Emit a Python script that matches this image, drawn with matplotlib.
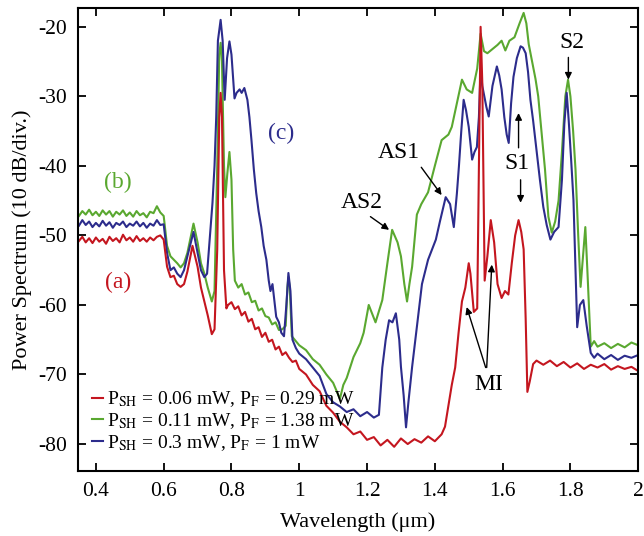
import matplotlib
matplotlib.use("Agg")
import matplotlib.pyplot as plt

plt.rcParams['font.family'] = ['Liberation Serif', 'DejaVu Serif']
plt.rcParams['mathtext.fontset'] = 'stix'
plt.rcParams['axes.unicode_minus'] = False

# curve (a): P_SH = 0.06 mW, P_F = 0.29 mW
lam_a = [0.35, 0.36, 0.37, 0.38, 0.39, 0.40, 0.41, 0.42, 0.43, 0.44, 0.45, 0.46, 0.47, 0.48, 0.49,
         0.50, 0.51, 0.52, 0.53, 0.54, 0.55, 0.56, 0.57, 0.58, 0.59, 0.60, 0.61, 0.62, 0.63, 0.64,
         0.65, 0.66, 0.67, 0.685, 0.70, 0.71, 0.72, 0.73, 0.742, 0.75, 0.758, 0.764, 0.768, 0.772,
         0.778, 0.785, 0.79, 0.80, 0.81, 0.82, 0.83, 0.84, 0.85, 0.86, 0.87, 0.88, 0.89, 0.90, 0.91,
         0.92, 0.93, 0.94, 0.95, 0.96, 0.97, 0.98, 0.99, 1.00, 1.02, 1.04, 1.06, 1.08, 1.10, 1.12,
         1.14, 1.16, 1.18, 1.20, 1.22, 1.24, 1.26, 1.28, 1.30, 1.32, 1.34, 1.36, 1.38, 1.40, 1.42,
         1.43, 1.44, 1.45, 1.46, 1.47, 1.48, 1.49, 1.50, 1.505, 1.515, 1.525, 1.53, 1.535, 1.54,
         1.547, 1.555, 1.565, 1.575, 1.585, 1.597, 1.607, 1.617, 1.627, 1.637, 1.647, 1.655, 1.662,
         1.668, 1.673, 1.68, 1.69, 1.70, 1.72, 1.74, 1.76, 1.78, 1.80, 1.82, 1.84, 1.86, 1.88, 1.90,
         1.92, 1.94, 1.96, 1.98, 2.00]
pow_a = [-50.8, -50.2, -51.0, -50.4, -51.1, -50.3, -50.9, -50.5, -51.2, -50.2, -50.8, -50.4, -51.0,
         -49.9, -50.7, -50.3, -50.9, -50.1, -50.8, -50.4, -50.9, -50.3, -50.7, -50.2, -50.0, -50.6,
         -54.5, -56.0, -55.8, -57.0, -57.4, -57.0, -55.2, -51.5, -54.5, -57.5, -59.5, -61.5, -64.2,
         -63.5, -52.0, -33.0, -29.5, -33.0, -55.0, -60.5, -60.0, -59.6, -60.6, -60.2, -61.5, -61.0,
         -62.4, -62.0, -63.5, -63.2, -64.6, -64.0, -65.3, -65.0, -66.4, -66.0, -67.2, -66.8, -67.6,
         -68.2, -68.0, -69.2, -70.0, -71.5, -72.4, -74.5, -75.5, -76.8, -77.6, -78.6, -78.2, -79.4,
         -79.0, -80.2, -79.4, -80.4, -79.2, -80.0, -79.3, -79.8, -78.9, -79.6, -78.6, -77.5, -74.5,
         -71.5, -69.0, -64.0, -59.5, -57.5, -54.0, -55.5, -61.0, -60.5, -40.0, -20.0, -28.0, -56.5,
         -53.0, -47.8, -51.0, -57.0, -59.0, -58.0, -58.5, -54.0, -50.0, -47.8, -49.5, -52.0, -62.0,
         -72.5, -71.0, -68.5, -68.0, -68.6, -68.0, -68.8, -68.2, -69.0, -68.4, -69.2, -68.6, -69.0,
         -68.5, -69.3, -68.8, -69.2, -68.9, -69.5]

# curve (b): P_SH = 0.11 mW, P_F = 1.38 mW
lam_b = [0.35, 0.36, 0.37, 0.38, 0.39, 0.40, 0.41, 0.42, 0.43, 0.44, 0.45, 0.46, 0.47, 0.48, 0.49,
         0.50, 0.51, 0.52, 0.53, 0.54, 0.55, 0.56, 0.57, 0.58, 0.59, 0.60, 0.61, 0.62, 0.63, 0.64,
         0.65, 0.66, 0.67, 0.688, 0.70, 0.71, 0.72, 0.73, 0.742, 0.75, 0.758, 0.764, 0.768, 0.772,
         0.778, 0.782, 0.788, 0.794, 0.80, 0.805, 0.81, 0.82, 0.83, 0.84, 0.85, 0.86, 0.87, 0.88,
         0.89, 0.90, 0.91, 0.92, 0.93, 0.94, 0.95, 0.96, 0.965, 0.968, 0.972, 0.978, 0.99, 1.00,
         1.02, 1.04, 1.06, 1.08, 1.10, 1.12, 1.13, 1.14, 1.16, 1.18, 1.19, 1.205, 1.225, 1.245, 1.26,
         1.274, 1.29, 1.30, 1.31, 1.318, 1.325, 1.333, 1.347, 1.36, 1.38, 1.40, 1.42, 1.44, 1.45,
         1.465, 1.48, 1.494, 1.51, 1.525, 1.535, 1.545, 1.555, 1.57, 1.585, 1.597, 1.608, 1.62,
         1.635, 1.65, 1.662, 1.67, 1.677, 1.687, 1.697, 1.705, 1.715, 1.725, 1.735, 1.745, 1.755,
         1.765, 1.775, 1.785, 1.793, 1.80, 1.808, 1.815, 1.823, 1.83, 1.837, 1.844, 1.85, 1.86,
         1.87, 1.88, 1.90, 1.92, 1.94, 1.96, 1.98, 2.00]
pow_b = [-47.2, -46.5, -47.0, -46.3, -47.1, -46.6, -47.2, -46.4, -47.0, -46.5, -47.3, -46.6, -47.0,
         -46.4, -47.2, -46.7, -47.3, -46.5, -47.1, -46.8, -47.4, -46.6, -46.8, -45.8, -46.7, -47.2,
         -51.5, -53.0, -53.5, -54.0, -54.6, -54.0, -52.5, -48.3, -51.0, -54.0, -55.5, -57.5, -59.5,
         -58.0, -40.0, -24.0, -22.3, -25.0, -40.0, -44.5, -41.0, -38.0, -42.0, -52.0, -56.5, -57.5,
         -57.0, -58.5, -58.2, -59.6, -59.4, -60.8, -60.5, -61.6, -61.8, -62.8, -62.5, -63.6, -63.5,
         -63.0, -57.5, -56.0, -57.5, -64.5, -65.2, -65.8, -66.5, -67.8, -68.6, -70.0, -71.2, -73.5,
         -71.5, -70.5, -67.5, -65.5, -64.0, -60.0, -62.5, -59.3, -54.0, -49.2, -51.0, -53.0, -57.0,
         -59.5, -57.0, -54.5, -47.0, -45.5, -43.8, -40.0, -36.3, -35.5, -34.4, -31.0, -27.6, -29.0,
         -29.5, -26.0, -21.0, -23.5, -23.8, -23.2, -22.6, -22.0, -23.4, -22.0, -21.5, -19.5, -18.0,
         -19.5, -22.5, -25.0, -27.5, -30.0, -35.3, -40.5, -47.3, -49.6, -48.0, -45.0, -38.0, -30.0,
         -27.6, -30.0, -35.0, -40.5, -50.0, -57.4, -53.0, -48.8, -55.0, -66.0, -65.2, -66.0, -65.5,
         -66.2, -65.6, -66.1, -65.4, -65.8]

# curve (c): P_SH = 0.3 mW, P_F = 1 mW
lam_c = [0.35, 0.36, 0.37, 0.38, 0.39, 0.40, 0.41, 0.42, 0.43, 0.44, 0.45, 0.46, 0.47, 0.48, 0.49,
         0.50, 0.51, 0.52, 0.53, 0.54, 0.55, 0.56, 0.57, 0.58, 0.59, 0.60, 0.61, 0.62, 0.63, 0.64,
         0.65, 0.66, 0.67, 0.688, 0.70, 0.71, 0.72, 0.728, 0.735, 0.744, 0.75, 0.755, 0.76, 0.768,
         0.774, 0.78, 0.787, 0.794, 0.80, 0.809, 0.815, 0.824, 0.83, 0.838, 0.847, 0.853, 0.859,
         0.866, 0.873, 0.88, 0.888, 0.895, 0.903, 0.91, 0.915, 0.921, 0.927, 0.932, 0.94, 0.947,
         0.955, 0.962, 0.968, 0.974, 0.98, 0.99, 1.00, 1.02, 1.04, 1.06, 1.08, 1.10, 1.12, 1.14,
         1.16, 1.18, 1.20, 1.22, 1.235, 1.245, 1.255, 1.265, 1.275, 1.285, 1.295, 1.30, 1.308,
         1.315, 1.322, 1.333, 1.345, 1.362, 1.38, 1.403, 1.415, 1.432, 1.445, 1.456, 1.465, 1.471,
         1.478, 1.485, 1.492, 1.50, 1.51, 1.517, 1.524, 1.53, 1.535, 1.54, 1.544, 1.552, 1.559,
         1.57, 1.583, 1.59, 1.597, 1.605, 1.612, 1.618, 1.625, 1.632, 1.642, 1.653, 1.66, 1.668,
         1.675, 1.682, 1.69, 1.70, 1.71, 1.72, 1.73, 1.741, 1.752, 1.765, 1.775, 1.782, 1.789,
         1.795, 1.802, 1.809, 1.815, 1.82, 1.828, 1.838, 1.848, 1.86, 1.87, 1.88, 1.90, 1.92, 1.94,
         1.96, 1.98, 2.00]
pow_c = [-48.6, -47.8, -48.5, -48.0, -48.8, -48.2, -48.7, -47.9, -48.6, -48.1, -48.9, -48.2, -48.5,
         -48.0, -48.8, -48.3, -48.6, -48.0, -48.7, -48.2, -48.9, -48.3, -48.6, -47.8, -48.5, -48.4,
         -52.5, -55.0, -54.6, -55.5, -56.0, -55.0, -53.0, -49.5, -52.5, -55.0, -56.0, -55.5, -51.0,
         -45.3, -40.0, -33.0, -22.0, -19.0, -22.0, -30.5, -24.5, -22.1, -24.0, -30.3, -29.5, -29.0,
         -29.5, -28.8, -30.5, -33.0, -36.3, -40.5, -43.9, -46.5, -48.8, -51.5, -53.5, -56.5, -58.0,
         -57.0, -59.5, -61.7, -62.5, -64.0, -64.5, -60.0, -55.4, -58.0, -65.0, -66.2, -67.0, -67.8,
         -69.0, -70.2, -72.8, -74.0, -74.6, -75.4, -75.0, -76.0, -75.4, -76.2, -75.8, -69.0, -65.0,
         -62.2, -62.5, -61.2, -65.0, -68.9, -73.0, -77.6, -74.0, -68.9, -64.0, -57.0, -53.5, -50.6,
         -48.0, -44.5, -45.5, -48.8, -44.0, -40.1, -35.0, -30.5, -32.0, -34.4, -39.1, -38.0, -37.3,
         -33.0, -26.0, -28.5, -29.5, -31.5, -32.9, -28.5, -25.7, -27.0, -29.0, -33.0, -35.5, -36.7,
         -31.0, -27.2, -24.5, -22.8, -23.0, -23.8, -26.5, -30.5, -33.5, -37.7, -42.0, -45.9, -48.5,
         -50.6, -49.5, -48.8, -42.0, -34.0, -29.5, -33.5, -39.0, -44.9, -55.0, -63.2, -60.0, -59.3,
         -63.0, -66.9, -67.6, -67.0, -67.8, -67.2, -67.9, -67.3, -67.6, -67.2]

labels = [r'P$_{\rm SH}$ = 0.06 mW, P$_{\rm F}$ = 0.29 mW',
          r'P$_{\rm SH}$ = 0.11 mW, P$_{\rm F}$ = 1.38 mW',
          r'P$_{\rm SH}$ = 0.3 mW, P$_{\rm F}$ = 1 mW']
c_red, c_green, c_blue = '#c4161f', '#5aa830', '#2c2c8c'

fig = plt.figure(figsize=(6.44, 5.36), dpi=100)
ax = fig.add_axes([0.121, 0.121, 0.870, 0.864])

lg, = ax.plot(lam_b, pow_b, color=c_green, lw=1.5)
lb, = ax.plot(lam_c, pow_c, color=c_blue, lw=1.5)
lr, = ax.plot(lam_a, pow_a, color=c_red, lw=1.5)

ax.set_xlim(0.347, 2.0)
ax.set_ylim(-83.9, -17.3)
ax.set_xticks([0.4, 0.6, 0.8, 1.0, 1.2, 1.4, 1.6, 1.8, 2.0])
ax.set_xticklabels(['0.4', '0.6', '0.8', '1', '1.2', '1.4', '1.6', '1.8', '2'])
ax.set_yticks([-80, -70, -60, -50, -40, -30, -20])
ax.tick_params(direction='in', top=True, right=True, length=6, width=1.3, labelsize=15.5, pad=8)
for s in ax.spines.values():
    s.set_linewidth(1.5)

ax.set_xlabel('Wavelength (μm)', fontsize=16, labelpad=8)
ax.set_ylabel('Power Spectrum (10 dB/div.)', fontsize=16)

leg = ax.legend([lr, lg, lb], labels, loc='lower left', bbox_to_anchor=(0.0, 0.01),
                frameon=False, fontsize=14, handlelength=0.6, handletextpad=0.2,
                labelspacing=0.1, borderaxespad=0.3)

# curve labels
ax.text(0.465, -42.4, '(b)', color=c_green, fontsize=17, ha='center', va='center')
ax.text(0.465, -56.7, '(a)', color=c_red, fontsize=17, ha='center', va='center')
ax.text(0.947, -35.3, '(c)', color=c_blue, fontsize=17, ha='center', va='center')

arw = dict(arrowstyle='-|>', color='k', lw=1.0, mutation_scale=10, shrinkA=0, shrinkB=0)
ax.text(1.185, -45.2, 'AS2', fontsize=17, ha='center', va='center')
ax.annotate('', xy=(1.265, -49.2), xytext=(1.21, -47.3), arrowprops=arw)
ax.text(1.294, -38.1, 'AS1', fontsize=17, ha='center', va='center')
ax.annotate('', xy=(1.42, -44.2), xytext=(1.36, -40.2), arrowprops=arw)
ax.text(1.641, -39.6, 'S1', fontsize=17, ha='center', va='center')
ax.annotate('', xy=(1.647, -32.4), xytext=(1.647, -37.4), arrowprops=arw)
ax.annotate('', xy=(1.653, -45.3), xytext=(1.653, -42.0), arrowprops=arw)
ax.text(1.803, -22.3, 'S2', fontsize=17, ha='center', va='center')
ax.annotate('', xy=(1.794, -27.6), xytext=(1.794, -24.4), arrowprops=arw)
ax.text(1.559, -71.5, 'MI', fontsize=17, ha='center', va='center')
ax.annotate('', xy=(1.494, -60.3), xytext=(1.55, -69.0), arrowprops=arw)
ax.annotate('', xy=(1.568, -54.2), xytext=(1.553, -69.0), arrowprops=arw)

fig.savefig('out.png', dpi=100)
